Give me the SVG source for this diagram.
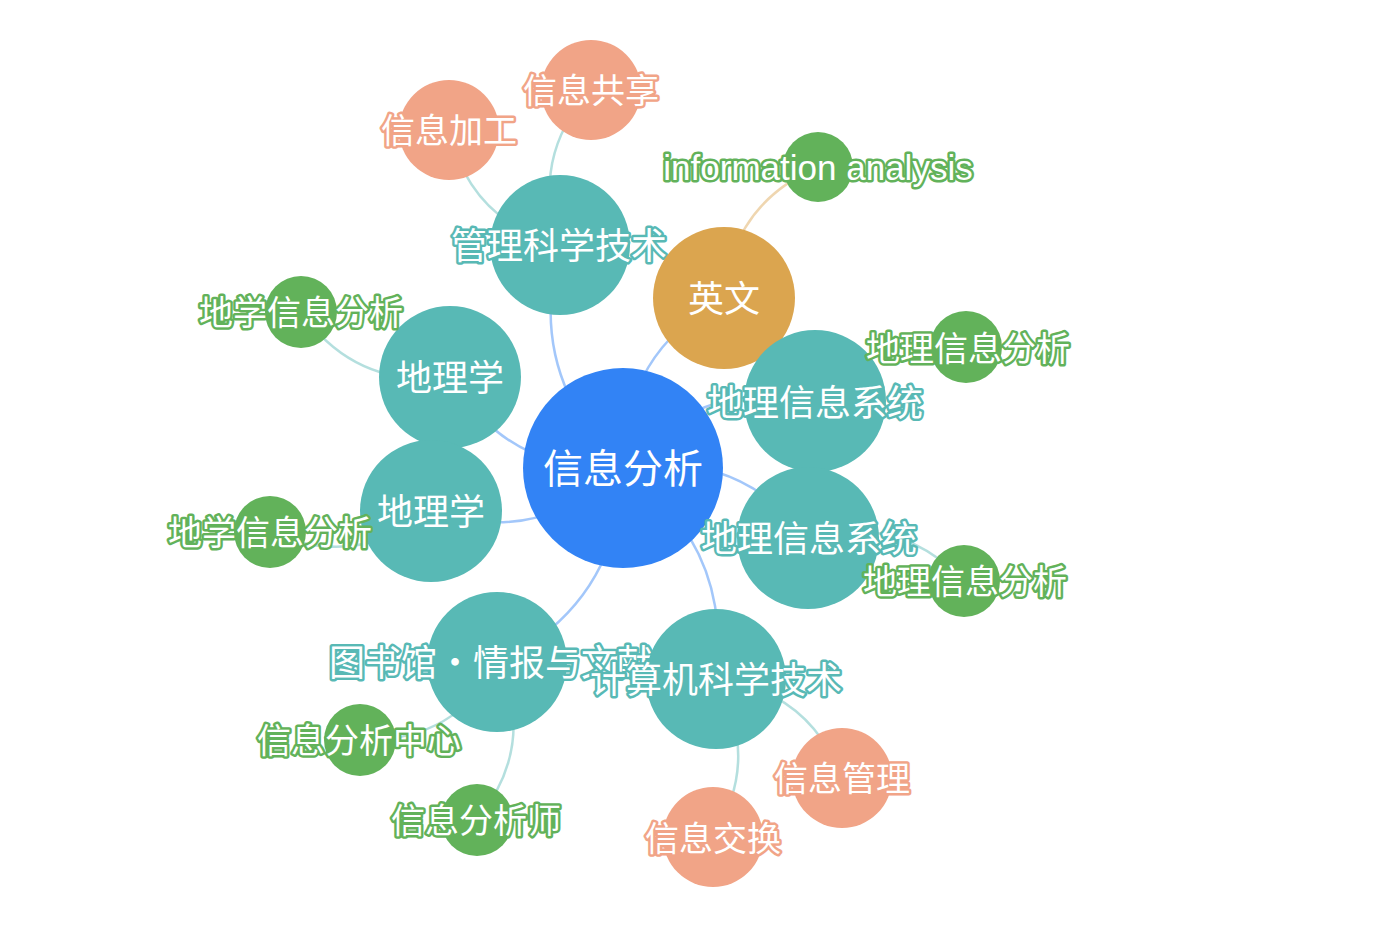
<svg xmlns="http://www.w3.org/2000/svg" width="1394" height="934" viewBox="0 0 1394 934">
<style>
.e{fill:none;stroke-width:2.5;stroke-opacity:0.45}
.eb{stroke:#3283F5}.et{stroke:#58B9B5}.eo{stroke:#DBA54F}
.blue{fill:#3283F5}.teal{fill:#58B9B5}.orange{fill:#DBA54F}.salmon{fill:#F1A487}.green{fill:#62B25A}
text{fill:#fff;text-anchor:middle;dominant-baseline:central;font-family:"Noto Sans CJK SC","Noto Sans",sans-serif;paint-order:stroke;stroke-width:5;stroke-linejoin:round}
.c0{font-size:40px;stroke:#3283F5}
.c1{font-size:36px;stroke:#58B9B5}
.c1o{font-size:36px;stroke:#DBA54F}
.ls{font-size:34px;stroke:#F1A487}
.lg{font-size:34px;stroke:#62B25A}
.lat{font-family:"Liberation Sans",Arial,sans-serif;font-size:35px}
</style>
<rect width="1394" height="934" fill="#fff"/>
<g id="connectors">
<path class="e eb" d="M623,468 Q524.6,375.4 560,245"/>
<path class="e eb" d="M623,468 Q622.5,352.7 724,298"/>
<path class="e eb" d="M623,468 Q509.2,474.4 450,377"/>
<path class="e eb" d="M623,468 Q539.9,547.1 431,511"/>
<path class="e eb" d="M623,468 Q698.9,376.9 815,401"/>
<path class="e eb" d="M623,468 Q736.5,447.5 808,538"/>
<path class="e eb" d="M623,468 Q619.7,601.9 500,662"/>
<path class="e eb" d="M623,468 Q732.8,545.6 716,679"/>
<path class="e et" d="M560,245 Q470,220.8 449,130"/>
<path class="e et" d="M560,245 Q529,158.2 591,90"/>
<path class="e eo" d="M724,298 Q731.7,204.3 818,167"/>
<path class="e et" d="M450,377 Q356,389.2 301,312"/>
<path class="e et" d="M431,511 Q356.8,569.8 270,532"/>
<path class="e et" d="M815,401 Q874.3,328.7 966,347"/>
<path class="e et" d="M808,538 Q898.9,512.7 964,581"/>
<path class="e et" d="M500,662 Q453.4,743 360,740"/>
<path class="e et" d="M500,662 Q535.9,747.9 477,820"/>
<path class="e et" d="M716,679 Q808.7,690.7 842,778"/>
<path class="e et" d="M716,679 Q761.9,758.9 713,837"/>
</g>
<g id="n-center"><circle class="blue" cx="623" cy="468" r="100"/><text class="c0" x="623" y="466">信息分析</text></g>
<g id="n-guanli"><circle class="teal" cx="560" cy="245" r="70"/><text class="c1" x="559" y="243">管理科学技术</text></g>
<g id="n-yingwen"><circle class="orange" cx="724" cy="298" r="71"/><text class="c1o" x="724" y="296">英文</text></g>
<g id="n-dilixue1"><circle class="teal" cx="450" cy="377" r="71"/><text class="c1" x="450" y="375">地理学</text></g>
<g id="n-dilixue2"><circle class="teal" cx="431" cy="511" r="71"/><text class="c1" x="431" y="509">地理学</text></g>
<g id="n-gis1"><circle class="teal" cx="815" cy="401" r="71"/><text class="c1" x="815" y="400">地理信息系统</text></g>
<g id="n-gis2"><circle class="teal" cx="808" cy="538" r="71"/><text class="c1" x="809" y="536">地理信息系统</text></g>
<g id="n-tushuguan"><circle class="teal" cx="497" cy="662" r="70"/><text class="c1" x="491" y="660">图书馆·情报与文献</text></g>
<g id="n-jisuanji"><circle class="teal" cx="716" cy="679" r="70"/><text class="c1" x="716" y="677">计算机科学技术</text></g>
<g id="n-xxjg"><circle class="salmon" cx="449" cy="130" r="50"/><text class="ls" x="449" y="128">信息加工</text></g>
<g id="n-xxgx"><circle class="salmon" cx="591" cy="90" r="50"/><text class="ls" x="591" y="88">信息共享</text></g>
<g id="n-ia"><circle class="green" cx="818" cy="167" r="35"/><text class="lg lat" x="818" y="167">information analysis</text></g>
<g id="n-dxxxfx1"><circle class="green" cx="301" cy="312" r="36"/><text class="lg" x="301" y="310">地学信息分析</text></g>
<g id="n-dxxxfx2"><circle class="green" cx="270" cy="532" r="36"/><text class="lg" x="270" y="530">地学信息分析</text></g>
<g id="n-dlxxfx1"><circle class="green" cx="966" cy="347" r="36"/><text class="lg" x="968" y="346">地理信息分析</text></g>
<g id="n-dlxxfx2"><circle class="green" cx="964" cy="581" r="36"/><text class="lg" x="965" y="579">地理信息分析</text></g>
<g id="n-xxfxzx"><circle class="green" cx="360" cy="740" r="36"/><text class="lg" x="359" y="738">信息分析中心</text></g>
<g id="n-xxfxs"><circle class="green" cx="477" cy="820" r="36"/><text class="lg" x="476" y="818">信息分析师</text></g>
<g id="n-xxgl"><circle class="salmon" cx="842" cy="778" r="50"/><text class="ls" x="842" y="776">信息管理</text></g>
<g id="n-xxjh"><circle class="salmon" cx="713" cy="837" r="50"/><text class="ls" x="713" y="836">信息交换</text></g>
</svg>
